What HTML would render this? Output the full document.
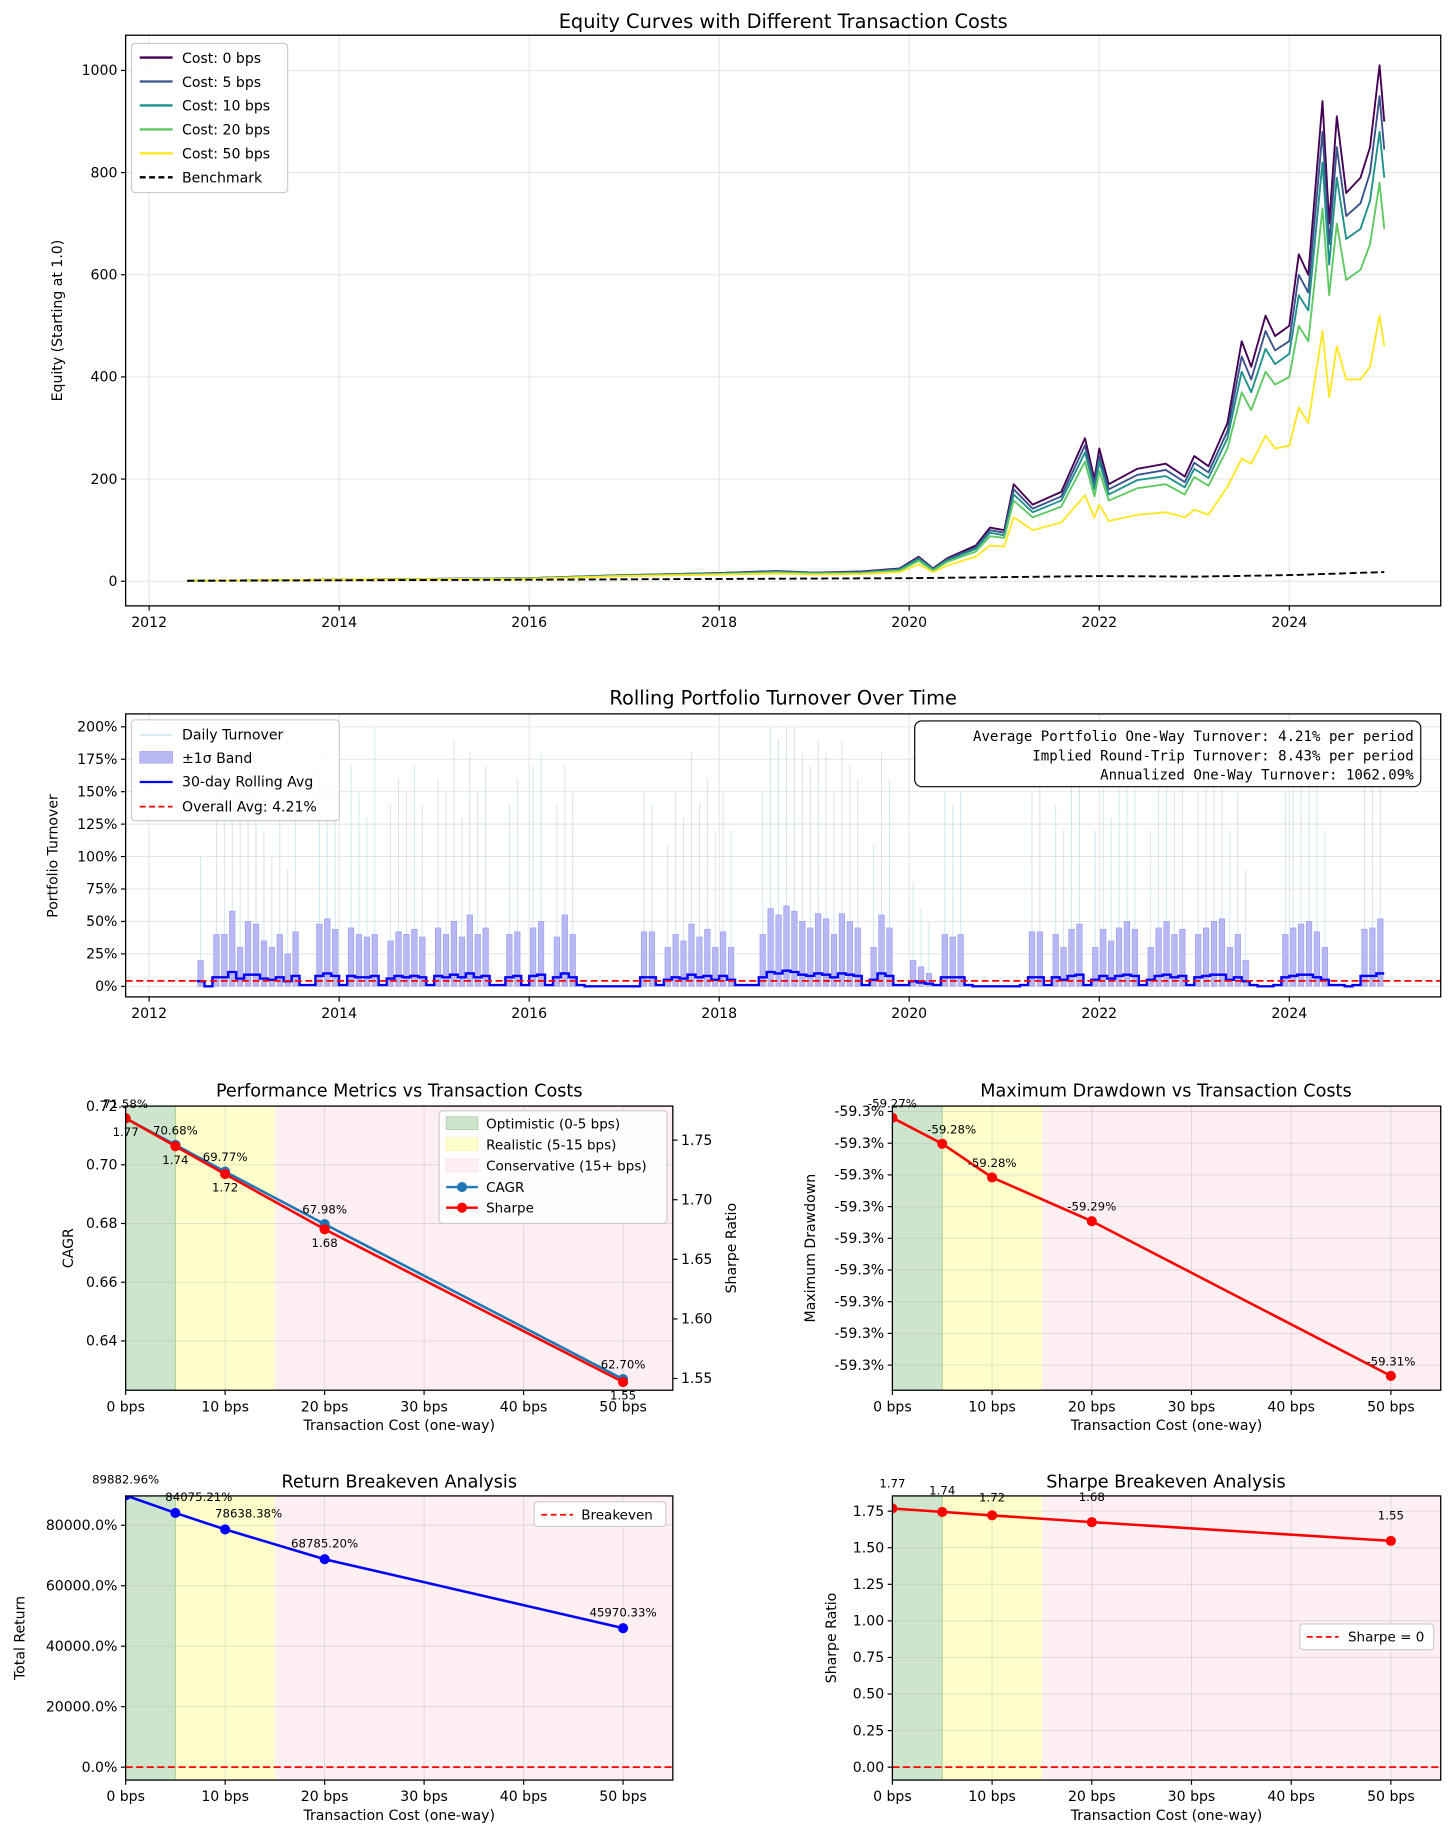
<!DOCTYPE html>
<html><head><meta charset="utf-8">
<style>
html,body{margin:0;padding:0;background:#fff;}
svg{display:block;font-family:"DejaVu Sans","Liberation Sans",sans-serif;}
</style></head>
<body>
<svg id="fig" width="1456" height="1847" viewBox="0 0 1240 1573" xmlns="http://www.w3.org/2000/svg">
<rect x="0" y="0" width="1240" height="1573" fill="#fff"/>
</svg>
<script>
// ---------- DATA ----------
const years = [2012.4,2014,2016,2017,2018,2018.6,2019,2019.5,2019.9,2020.1,2020.25,2020.4,2020.7,2020.85,2021.0,2021.1,2021.3,2021.6,2021.85,2021.95,2022.0,2022.1,2022.4,2022.7,2022.9,2023.0,2023.15,2023.35,2023.5,2023.6,2023.75,2023.85,2024.0,2024.1,2024.2,2024.35,2024.42,2024.5,2024.6,2024.75,2024.85,2024.95,2025.0];
const cost0 = [1,3,6,12,16,20,17,19,25,48,25,45,70,105,100,190,150,175,280,200,260,190,220,230,205,245,225,310,470,420,520,480,500,640,600,940,700,910,760,790,850,1010,900];
const cost5 = [1,3,6,12,16,19,17,18,24,46,24,43,66,100,95,180,142,166,266,190,246,180,208,218,194,232,213,294,440,395,490,452,470,600,565,880,660,850,715,740,800,950,845];
const cost10 = [1,3,6,11,15,18,16,17,23,44,23,41,63,95,90,170,135,158,252,180,234,170,198,206,184,220,202,280,410,370,455,425,445,560,530,820,620,790,670,690,745,880,790];
const cost20 = [1,3,5,11,14,17,15,16,21,40,21,38,58,88,85,158,125,146,234,166,216,158,182,190,170,204,187,260,370,335,410,385,400,500,470,730,560,700,590,610,660,780,690];
const cost50 = [1,3,5,10,13,15,13,14,18,33,18,31,48,70,68,125,100,115,168,125,150,118,130,135,125,140,130,185,240,230,285,260,265,340,310,490,360,460,395,395,420,520,460];
const benchYears = [2012.4,2016,2020,2022,2023,2024,2025];
const benchVals = [1,3,6,10,9,12,18];

const turnStart = 2012.5;
const bandHi = [20,0,40,40,58,30,
 50,48,35,30,40,25,42,0,0,48,52,44,
 0,45,40,38,40,0,35,42,40,44,38,0,
 45,40,50,38,55,40,45,0,0,40,42,0,
 45,50,0,38,55,40,0,0,0,0,0,0,
 0,0,42,42,0,30,40,35,48,38,44,30,
 42,30,0,0,0,40,60,55,62,58,50,45,
 56,52,40,56,50,45,0,30,55,45,0,0,
 20,15,10,0,40,38,40,0,0,0,0,0,
 0,0,0,42,42,0,40,30,44,48,0,30,
 44,35,45,50,44,0,30,45,50,40,44,0,
 40,45,50,52,30,40,20,0,0,0,0,40,
 45,48,50,42,30,0,0,0,0,44,45,52];
const rollAvg = [4,0,7,7,11,6,
 9,9,6,5,7,4,8,1,1,8,10,8,
 1,8,7,7,8,1,6,8,7,8,7,1,
 8,7,9,7,10,7,8,1,1,7,8,1,
 8,9,1,7,10,7,1,0,0,0,0,0,
 0,0,7,7,1,5,7,6,9,7,8,5,
 8,5,1,1,1,7,11,10,12,11,9,8,
 10,9,7,10,9,8,1,5,10,8,1,1,
 4,3,2,1,7,7,7,1,0,0,0,0,
 0,0,1,7,7,1,7,5,8,9,1,5,
 8,6,8,9,8,1,5,8,9,7,8,1,
 7,8,9,9,5,7,4,1,0,0,1,7,
 8,9,9,7,5,1,1,0,1,8,8,10];
const spikes = [100,0,160,130,180,150,
 170,150,120,100,160,90,140,0,0,170,190,160,
 0,170,150,130,200,0,140,160,150,170,140,0,
 160,150,190,130,180,150,170,0,0,140,160,0,
 170,180,0,140,170,150,0,0,0,0,0,0,
 0,0,150,140,0,110,150,130,180,140,160,120,
 150,120,0,0,0,150,200,190,200,200,180,170,
 190,180,150,190,170,160,0,110,180,160,0,0,
 80,60,50,0,150,140,150,0,0,0,0,0,
 0,0,0,150,160,0,140,120,160,170,0,120,
 160,130,170,180,160,0,120,170,180,150,160,0,
 150,170,180,190,120,150,90,0,0,0,0,150,
 160,170,180,160,120,0,0,0,0,160,170,180];
const overallAvg = 4.21;

const costs = [0,5,10,20,50];
const cagr = [0.7158,0.7068,0.6977,0.6798,0.6270];
const sharpe = [1.7684,1.7449,1.7215,1.6752,1.5470];
const maxDD = [-0.592700,-0.592741,-0.592794,-0.592863,-0.593107];
const ddLabels = ["-59.27%","-59.28%","-59.28%","-59.29%","-59.31%"];
const totalRet = [89882.96,84075.21,78638.38,68785.20,45970.33];
const costTicks = [0,10,20,30,40,50];
const equityTicks = [0,200,400,600,800,1000];
const yearTicks = [2012,2014,2016,2018,2020,2022,2024];
const turnTicks = [0,25,50,75,100,125,150,175,200];
const cagrTicks = [0.64,0.66,0.68,0.70,0.72];
const sharpeRTicks = [1.55,1.60,1.65,1.70,1.75];
const retTicks = [0,20000,40000,60000,80000];
const shTicks = [0,0.25,0.5,0.75,1.0,1.25,1.5,1.75];

// ---------- HELPERS ----------
const NS = "http://www.w3.org/2000/svg";
const svg = document.getElementById('fig');
function mk(tag, attrs, parent){
  const el = document.createElementNS(NS, tag);
  for (const k in attrs) el.setAttribute(k, attrs[k]);
  (parent || svg).appendChild(el);
  return el;
}
function txt(x, y, s, size, anchor, name, extra, parent){
  const a = Object.assign({x:x, y:y, 'font-size':size, 'text-anchor':anchor||'middle', fill:'#000'}, extra||{});
  const el = mk('text', a, parent);
  el.textContent = s;
  
  
  return el;
}
function lin(d0,d1,r0,r1){ return v => r0 + (v-d0)/(d1-d0)*(r1-r0); }
function frame(L,T,R,B,name){
  const r = mk('rect',{x:L,y:T,width:R-L,height:B-T,fill:'none',stroke:'#000','stroke-width':1.1});
  
  
}
function clip(id,L,T,R,B){
  const d = mk('clipPath',{id:id});
  mk('rect',{x:L,y:T,width:R-L,height:B-T},d);
}

// ---------- CHART 1: EQUITY ----------
(function(){
  const L=107,T=30,R=1227,B=516;
  const x = lin(2012,2024,127,1098);
  const y = lin(0,1000,495,60);
  clip('c1',L,T,R,B);
  const g = mk('g',{'clip-path':'url(#c1)'});
  
  
  yearTicks.forEach(t=>{ mk('line',{x1:x(t),x2:x(t),y1:T,y2:B,stroke:'#e3e3e3','stroke-width':0.8},g); });
  equityTicks.forEach(t=>{ mk('line',{x1:L,x2:R,y1:y(t),y2:y(t),stroke:'#e3e3e3','stroke-width':0.8},g); });
  const series = [[cost0,'#440154','equity-line-0bps'],[cost5,'#3b528b','equity-line-5bps'],[cost10,'#21918c','equity-line-10bps'],[cost20,'#5ec962','equity-line-20bps'],[cost50,'#fde725','equity-line-50bps']];
  series.forEach(s=>{
    const pts = years.map((yr,i)=>x(yr).toFixed(1)+','+y(s[0][i]).toFixed(1)).join(' ');
    const pl = mk('polyline',{points:pts,fill:'none',stroke:s[1],'stroke-width':1.6,'stroke-linejoin':'round'},g);
    
    
  });
  const bp = benchYears.map((yr,i)=>x(yr).toFixed(1)+','+y(benchVals[i]).toFixed(1)).join(' ');
  const bl = mk('polyline',{points:bp,fill:'none',stroke:'#000','stroke-width':1.6,'stroke-dasharray':'6,3'},g);
  
  
  frame(L,T,R,B,'equity-axes-frame');
  yearTicks.forEach(t=>{ mk('line',{x1:x(t),x2:x(t),y1:B,y2:B+4,stroke:'#000'}); txt(x(t),B+18,String(t),12,'middle','equity-x-tick'); });
  equityTicks.forEach(t=>{ mk('line',{x1:L-4,x2:L,y1:y(t),y2:y(t),stroke:'#000'}); txt(L-7,y(t)+4,String(t),12,'end','equity-y-tick'); });
  txt(667,24,'Equity Curves with Different Transaction Costs',16.5,'middle','equity-chart-title');
  txt(0,0,'Equity (Starting at 1.0)',12,'middle','equity-y-axis-title',{transform:'translate(53,273) rotate(-90)'});
  const lg = mk('g',{});
  
  
  mk('rect',{x:112,y:37,width:133,height:127,rx:3,fill:'#fff','fill-opacity':0.85,stroke:'#ccc'},lg);
  const names=['Cost: 0 bps','Cost: 5 bps','Cost: 10 bps','Cost: 20 bps','Cost: 50 bps','Benchmark'];
  const cols=['#440154','#3b528b','#21918c','#5ec962','#fde725','#000'];
  names.forEach((n,i)=>{
    const yy=49+i*20.4;
    mk('line',{x1:119,x2:147,y1:yy,y2:yy,stroke:cols[i],'stroke-width':2,'stroke-dasharray':i==5?'5,3':'none'},lg);
    txt(155,yy+4.5,n,12,'start','equity-legend-entry',{},lg);
  });
})();

// ---------- CHART 2: TURNOVER ----------
(function(){
  const L=107,T=608,R=1227,B=849;
  const x = lin(2012,2024,127,1098);
  const y = lin(0,200,840,619);
  clip('c2',L,T,R,B);
  const g = mk('g',{'clip-path':'url(#c2)'});
  
  
  yearTicks.forEach(t=>{ mk('line',{x1:x(t),x2:x(t),y1:T,y2:B,stroke:'#e3e3e3','stroke-width':0.8},g); });
  turnTicks.forEach(t=>{ mk('line',{x1:L,x2:R,y1:y(t),y2:y(t),stroke:'#e3e3e3','stroke-width':0.8},g); });
  spikes.forEach((v,i)=>{
    if(v<=0) return;
    const xx = x(turnStart+(i+0.5)/12);
    const s = mk('line',{x1:xx,x2:xx,y1:y(0),y2:y(v),stroke:'#a6cfe6','stroke-width':0.8,'stroke-opacity':0.55},g);
    
    
  });
  bandHi.forEach((v,i)=>{
    if(v<=0) return;
    const x0=x(turnStart+i/12), x1=x(turnStart+(i+1)/12);
    const r = mk('rect',{x:x0+1,y:y(v),width:Math.max(1,x1-x0-2),height:y(0)-y(v),fill:'#b8b8f5',stroke:'#9a9af0','stroke-width':0.5},g);
    
    
  });
  let d='';
  rollAvg.forEach((v,i)=>{
    const x0=x(turnStart+i/12), x1=x(turnStart+(i+1)/12);
    d += (i==0?'M':'L')+x0.toFixed(1)+','+y(v).toFixed(1)+' L'+x1.toFixed(1)+','+y(v).toFixed(1)+' ';
  });
  const ra = mk('path',{d:d,fill:'none',stroke:'#0000ff','stroke-width':2},g);
  
  
  const av = mk('line',{x1:L,x2:R,y1:y(overallAvg),y2:y(overallAvg),stroke:'#ff0000','stroke-width':1.5,'stroke-dasharray':'6,3'},g);
  
  
  frame(L,T,R,B,'turnover-axes-frame');
  yearTicks.forEach(t=>{ mk('line',{x1:x(t),x2:x(t),y1:B,y2:B+4,stroke:'#000'}); txt(x(t),B+18,String(t),12,'middle','turnover-x-tick'); });
  turnTicks.forEach(t=>{ mk('line',{x1:L-4,x2:L,y1:y(t),y2:y(t),stroke:'#000'}); txt(L-7,y(t)+4,t+'%',12,'end','turnover-y-tick'); });
  txt(667,600,'Rolling Portfolio Turnover Over Time',16.5,'middle','turnover-chart-title');
  txt(0,0,'Portfolio Turnover',12,'middle','turnover-y-axis-title',{transform:'translate(49,729) rotate(-90)'});
  const lg = mk('g',{});
  
  
  mk('rect',{x:112,y:613,width:177,height:86,rx:3,fill:'#fff','fill-opacity':0.85,stroke:'#ccc'},lg);
  mk('line',{x1:119,x2:147,y1:626,y2:626,stroke:'#a6cfe6','stroke-width':0.8},lg);
  txt(155,630,'Daily Turnover',12,'start','legend-daily-turnover',{},lg);
  mk('rect',{x:119,y:640,width:28,height:10,fill:'#b8b8f5',stroke:'#9a9af0','stroke-width':0.5},lg);
  txt(155,650,'±1σ Band',12,'start','legend-sigma-band',{},lg);
  mk('line',{x1:119,x2:147,y1:666,y2:666,stroke:'#0000ff','stroke-width':2},lg);
  txt(155,670,'30-day Rolling Avg',12,'start','legend-rolling-avg',{},lg);
  mk('line',{x1:119,x2:147,y1:687,y2:687,stroke:'#ff0000','stroke-width':1.5,'stroke-dasharray':'5,3'},lg);
  txt(155,691,'Overall Avg: 4.21%',12,'start','legend-overall-avg',{},lg);
  const tb = mk('g',{});
  
  
  mk('rect',{x:779,y:614,width:431,height:56,rx:6,fill:'#fff',stroke:'#000','stroke-width':1},tb);
  const lines=['Average Portfolio One-Way Turnover: 4.21% per period','Implied Round-Trip Turnover: 8.43% per period','Annualized One-Way Turnover: 1062.09%'];
  lines.forEach((s,i)=>txt(1204,631+i*16.5,s,12,'end','turnover-stats-line',{'font-family':'"DejaVu Sans Mono","Liberation Mono",monospace'},tb));
})();

// ---------- shared for cost charts ----------
function costAxes(L,T,R,B,id,prefix){
  const x = lin(0,50,L,L+(R-L)*50/55);
  clip(id,L,T,R,B);
  const g = mk('g',{'clip-path':'url(#'+id+')'});
  
  
  const z1 = mk('rect',{x:x(0),y:T,width:x(5)-x(0),height:B-T,fill:'#cce5cc'},g);
  
  
  const z2 = mk('rect',{x:x(5),y:T,width:x(15)-x(5),height:B-T,fill:'#ffffcc'},g);
  
  
  const z3 = mk('rect',{x:x(15),y:T,width:R-x(15),height:B-T,fill:'#fdeff2'},g);
  
  
  mk('line',{x1:x(5),x2:x(5),y1:T,y2:B,stroke:'#a8d08a','stroke-width':0.8},g);
  costTicks.forEach(t=>{ mk('line',{x1:x(t),x2:x(t),y1:T,y2:B,stroke:'#bbb','stroke-opacity':0.45,'stroke-width':0.8},g); });
  costTicks.forEach(t=>{ mk('line',{x1:x(t),x2:x(t),y1:B,y2:B+4,stroke:'#000'}); txt(x(t),B+18,t+' bps',12,'middle',prefix+'-x-tick'); });
  txt((L+R)/2,B+34,'Transaction Cost (one-way)',12,'middle',prefix+'-x-axis-title');
  return {x:x,g:g};
}
function hgrid(g,L,R,ys){ ys.forEach(v=>mk('line',{x1:L,x2:R,y1:v,y2:v,stroke:'#bbb','stroke-opacity':0.45,'stroke-width':0.8},g)); }
function seriesLine(g,xs,ys,color,name){
  const pts = xs.map((xv,i)=>xv.toFixed(1)+','+ys[i].toFixed(1)).join(' ');
  const pl = mk('polyline',{points:pts,fill:'none',stroke:color,'stroke-width':2.2},g);
  
  
  xs.forEach((xv,i)=>{
    const c = mk('circle',{cx:xv,cy:ys[i],r:4.3,fill:color},g);
    
    
  });
}

// ---------- CHART 3: PERFORMANCE ----------
(function(){
  const L=107,T=942,R=573,B=1184;
  const a = costAxes(L,T,R,B,'c3','performance');
  const y = lin(0.64,0.72,1142,942);
  const y2 = lin(1.55,1.75,1174,971);
  hgrid(a.g,L,R,cagrTicks.map(y));
  seriesLine(a.g,costs.map(a.x),cagr.map(y),'#1f77b4','cagr-line');
  seriesLine(a.g,costs.map(a.x),sharpe.map(y2),'#ff0000','sharpe-line');
  frame(L,T,R,B,'performance-axes-frame');
  cagrTicks.forEach(t=>{ mk('line',{x1:L-4,x2:L,y1:y(t),y2:y(t),stroke:'#000'}); txt(L-7,y(t)+4,t.toFixed(2),12,'end','cagr-y-tick'); });
  sharpeRTicks.forEach(t=>{ mk('line',{x1:R,x2:R+4,y1:y2(t),y2:y2(t),stroke:'#000'}); txt(R+7,y2(t)+4,t.toFixed(2),12,'start','sharpe-right-y-tick'); });
  costs.forEach((c,i)=>{
    txt(a.x(c),y(cagr[i])-9,(cagr[i]*100).toFixed(2)+'%',10,'middle','cagr-value-label');
    txt(a.x(c),y2(sharpe[i])+15,sharpe[i].toFixed(2),10,'middle','sharpe-value-label');
  });
  txt(340,934,'Performance Metrics vs Transaction Costs',15,'middle','performance-chart-title');
  txt(0,0,'CAGR',12,'middle','cagr-y-axis-title',{transform:'translate(62,1063) rotate(-90)'});
  txt(0,0,'Sharpe Ratio',12,'middle','sharpe-y-axis-title',{transform:'translate(627,1063) rotate(-90)'});
  const lg = mk('g',{});
  
  
  mk('rect',{x:374,y:946,width:194,height:96,rx:3,fill:'#fff','fill-opacity':0.85,stroke:'#ccc'},lg);
  const items=[['Optimistic (0-5 bps)','#cce5cc','#a8cca8'],['Realistic (5-15 bps)','#ffffcc','#f5f0a8'],['Conservative (15+ bps)','#fdeff2','#f5dde2']];
  items.forEach((it,i)=>{ const yy=957+i*18; mk('rect',{x:380,y:yy-6,width:27,height:11,fill:it[1],stroke:it[2],'stroke-width':0.6},lg); txt(414,yy+4,it[0],11.5,'start','performance-legend-entry',{},lg); });
  [['CAGR','#1f77b4'],['Sharpe','#ff0000']].forEach((it,i)=>{ const yy=1011+i*17.5; mk('line',{x1:380,x2:407,y1:yy,y2:yy,stroke:it[1],'stroke-width':2},lg); mk('circle',{cx:393.5,cy:yy,r:4.3,fill:it[1]},lg); txt(414,yy+4,it[0],11.5,'start','performance-legend-entry',{},lg); });
})();

// ---------- CHART 4: DRAWDOWN ----------
(function(){
  const L=760,T=942,R=1227,B=1184;
  const a = costAxes(L,T,R,B,'c4','drawdown');
  const y = lin(-0.5927,-0.5928,952,1006);
  const ticks=[]; for(let k=0;k<9;k++) ticks.push(-0.59269-k*0.00005);
  hgrid(a.g,L,R,ticks.map(y));
  seriesLine(a.g,costs.map(a.x),maxDD.map(y),'#ff0000','drawdown-line');
  frame(L,T,R,B,'drawdown-axes-frame');
  ticks.forEach(t=>{ mk('line',{x1:L-4,x2:L,y1:y(t),y2:y(t),stroke:'#000'}); txt(L-7,y(t)+4,'-59.3%',12,'end','drawdown-y-tick'); });
  costs.forEach((c,i)=>txt(a.x(c)+(i==1?8:0),y(maxDD[i])-9,ddLabels[i],10,'middle','drawdown-value-label'));
  txt(993,934,'Maximum Drawdown vs Transaction Costs',15,'middle','drawdown-chart-title');
  txt(0,0,'Maximum Drawdown',12,'middle','drawdown-y-axis-title',{transform:'translate(694,1063) rotate(-90)'});
})();

// ---------- CHART 5: RETURN BREAKEVEN ----------
(function(){
  const L=107,T=1274,R=573,B=1516;
  const a = costAxes(L,T,R,B,'c5','return');
  const y = lin(0,80000,1505,1299);
  hgrid(a.g,L,R,retTicks.map(y));
  const be = mk('line',{x1:L,x2:R,y1:y(0),y2:y(0),stroke:'#ff0000','stroke-width':1.5,'stroke-dasharray':'6,3'},a.g);
  
  
  seriesLine(a.g,costs.map(a.x),totalRet.map(y),'#0000ff','total-return-line');
  frame(L,T,R,B,'return-axes-frame');
  retTicks.forEach(t=>{ mk('line',{x1:L-4,x2:L,y1:y(t),y2:y(t),stroke:'#000'}); txt(L-7,y(t)+4,t.toFixed(1)+'%',12,'end','return-y-tick'); });
  costs.forEach((c,i)=>txt(a.x(c)+(i==1?20:i==2?20:0),y(totalRet[i])-10,totalRet[i].toFixed(2)+'%',10,'middle','return-value-label'));
  txt(340,1267,'Return Breakeven Analysis',15,'middle','return-chart-title');
  txt(0,0,'Total Return',12,'middle','return-y-axis-title',{transform:'translate(21,1395) rotate(-90)'});
  const lg = mk('g',{});
  
  
  mk('rect',{x:455,y:1279,width:112,height:21,rx:3,fill:'#fff',stroke:'#ccc'},lg);
  mk('line',{x1:461,x2:488,y1:1290,y2:1290,stroke:'#ff0000','stroke-width':1.5,'stroke-dasharray':'5,3'},lg);
  txt(495,1294,'Breakeven',11.5,'start','return-legend-entry',{},lg);
})();

// ---------- CHART 6: SHARPE BREAKEVEN ----------
(function(){
  const L=760,T=1274,R=1227,B=1516;
  const a = costAxes(L,T,R,B,'c6','sharpe-breakeven');
  const y = lin(0,1.75,1505,1287);
  hgrid(a.g,L,R,shTicks.map(y));
  const be = mk('line',{x1:L,x2:R,y1:y(0),y2:y(0),stroke:'#ff0000','stroke-width':1.5,'stroke-dasharray':'6,3'},a.g);
  
  
  seriesLine(a.g,costs.map(a.x),sharpe.map(y),'#ff0000','sharpe-breakeven-line');
  frame(L,T,R,B,'sharpe-breakeven-axes-frame');
  shTicks.forEach(t=>{ mk('line',{x1:L-4,x2:L,y1:y(t),y2:y(t),stroke:'#000'}); txt(L-7,y(t)+4,t.toFixed(2),12,'end','sharpe-breakeven-y-tick'); });
  costs.forEach((c,i)=>txt(a.x(c),y(sharpe[i])-18+(i==1?3:i==2?6:0),sharpe[i].toFixed(2),10,'middle','sharpe-breakeven-value-label'));
  txt(993,1267,'Sharpe Breakeven Analysis',15,'middle','sharpe-breakeven-chart-title');
  txt(0,0,'Sharpe Ratio',12,'middle','sharpe-breakeven-y-axis-title',{transform:'translate(712,1395) rotate(-90)'});
  const lg = mk('g',{});
  
  
  mk('rect',{x:1107,y:1383,width:114,height:22,rx:3,fill:'#fff',stroke:'#ccc'},lg);
  mk('line',{x1:1113,x2:1140,y1:1394,y2:1394,stroke:'#ff0000','stroke-width':1.5,'stroke-dasharray':'5,3'},lg);
  txt(1148,1398,'Sharpe = 0',11.5,'start','sharpe-breakeven-legend-entry',{},lg);
})();
</script>
</body></html>
